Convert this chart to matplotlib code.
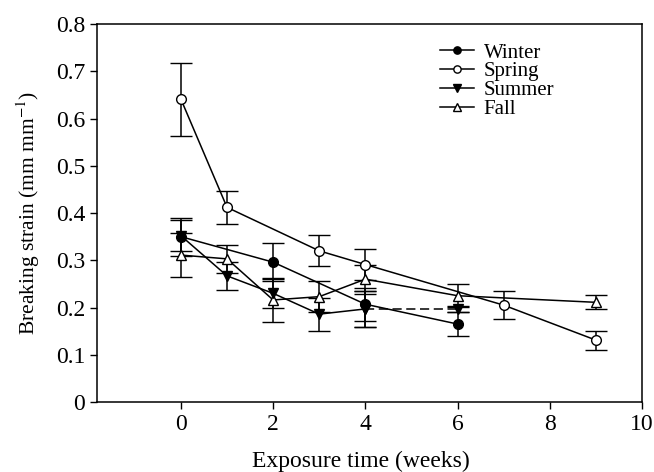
import matplotlib
matplotlib.use('Agg')
import matplotlib.pyplot as plt

plt.rcParams['font.family'] = ['Liberation Serif', 'DejaVu Serif']
plt.rcParams['mathtext.fontset'] = 'stix'

# data
winter_x = [0, 2, 4, 6]
winter_y = [0.350, 0.296, 0.207, 0.165]
winter_err = [0.040, 0.040, 0.035, 0.026]

spring_x = [0, 1, 3, 4, 7, 9]
spring_y = [0.641, 0.412, 0.320, 0.291, 0.205, 0.131]
spring_err = [0.077, 0.035, 0.033, 0.032, 0.030, 0.020]

summer_x = [0, 1, 2, 3, 4]
summer_y = [0.352, 0.267, 0.230, 0.186, 0.197]
summer_err = [0.033, 0.030, 0.030, 0.035, 0.038]
summer6_x = [4, 6]
summer6_y = [0.197, 0.197]
summer6_err = [0.038, 0.006]

fall_x = [0, 1, 2, 3, 4, 6, 9]
fall_y = [0.311, 0.303, 0.216, 0.223, 0.260, 0.225, 0.211]
fall_err = [0.047, 0.030, 0.047, 0.033, 0.031, 0.024, 0.015]

fig = plt.figure(figsize=(6.54, 4.72), dpi=100)
ax = fig.add_axes([0.1483, 0.1483, 0.8334, 0.8007])

kw = dict(color='black', ecolor='black', elinewidth=1.1, capsize=8, capthick=1.1,
          lw=1.1, markersize=7, markeredgewidth=1)

# summer dashed segment from week 4 to week 6
ax.errorbar(summer6_x, summer6_y, yerr=summer6_err, marker='v', ls=(0, (6, 3)),
            markerfacecolor='black', **kw)
ax.errorbar(fall_x, fall_y, yerr=fall_err, marker='^', ls='-',
            markerfacecolor='white', label='Fall', **kw)
ax.errorbar(summer_x, summer_y, yerr=summer_err, marker='v', ls='-',
            markerfacecolor='black', label='Summer', **kw)
ax.errorbar(spring_x, spring_y, yerr=spring_err, marker='o', ls='-',
            markerfacecolor='white', label='Spring', **kw)
ax.errorbar(winter_x, winter_y, yerr=winter_err, marker='o', ls='-',
            markerfacecolor='black', label='Winter', **kw)

ax.set_xlim(-1.82, 10)
ax.set_ylim(0, 0.8)
ax.set_xticks([0, 2, 4, 6, 8, 10])
ax.set_yticks([0, 0.1, 0.2, 0.3, 0.4, 0.5, 0.6, 0.7, 0.8])
ax.set_yticklabels(['0', '0.1', '0.2', '0.3', '0.4', '0.5', '0.6', '0.7', '0.8'])
ax.tick_params(direction='out', labelsize=17, length=5, width=1)
for s in ax.spines.values():
    s.set_linewidth(1.1)

ax.set_xlabel('Exposure time (weeks)', fontsize=17)
ax.xaxis.set_label_coords(0.484, -0.13, transform=ax.transAxes)
ax.xaxis.label.set_va('top')
ax.set_ylabel('Breaking strain (mm mm$^{-1}$)', fontsize=15.5, labelpad=10)

handles, labels = ax.get_legend_handles_labels()
order = [3, 2, 1, 0]
leg = ax.legend([handles[i][0] for i in order], [labels[i] for i in order],
                loc='upper left', bbox_to_anchor=(0.63, 0.95), frameon=False,
                fontsize=15, handlelength=1.6, handletextpad=0.48,
                labelspacing=-0.04, markerscale=0.75,
                borderpad=0, borderaxespad=0)

fig.savefig('out.png', dpi=100)
